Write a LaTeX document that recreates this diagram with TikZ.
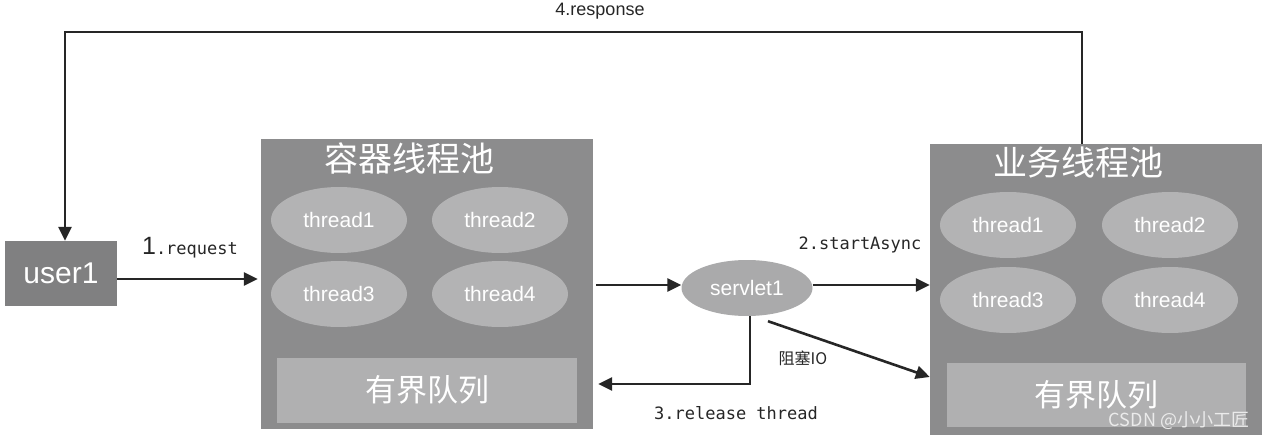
\documentclass[tikz,border=0pt]{standalone}
\usepackage{fontspec}
\setmainfont{Liberation Sans}
\newfontfamily\cjk{Noto Sans CJK SC}
\newfontfamily\codefont{DejaVu Sans Mono}
\usetikzlibrary{arrows.meta,positioning,shapes.geometric,calc}
\definecolor{poolgray}{HTML}{8C8C8D}
\definecolor{threadgray}{HTML}{B3B3B4}
\definecolor{queuegray}{HTML}{B0B0B1}
\definecolor{usergray}{HTML}{808081}
\definecolor{servletgray}{HTML}{AAAAAB}
\newcommand{\fsz}[1]{\fontsize{#1}{#1}\selectfont}

\begin{document}
\begin{tikzpicture}[
  x=1pt, y=-1pt,
  pool/.style={fill=poolgray, minimum width=332pt, minimum height=290pt, inner sep=0pt},
  pooltitle/.style={font=\cjk\fsz{34}, text=white},
  thread/.style={ellipse, fill=threadgray, minimum width=136pt, minimum height=66pt, inner sep=0pt, text=white, font=\fsz{21}},
  queue/.style={fill=queuegray, minimum width=300pt, minimum height=65pt, inner sep=0pt, text=white, font=\cjk\fsz{31}},
  arrow/.style={-{Triangle[length=14pt,width=13pt]}, line width=2.6pt, black!85},
  codelbl/.style={font=\codefont\fsz{17}, text=black!85},
]
  \useasboundingbox (0,0) rectangle (1264,441);

  % Client
  \node[fill=usergray, minimum width=112pt, minimum height=65pt, inner sep=0pt, text=white, font=\fsz{30}] (user1) at (61,273.5) {user1};

  % Container thread pool
  \node[pool] (pool1) at (427,284) {};
  \node[pooltitle] (title1) at (409,158) {容器线程池};
  \node[thread] (c1) at (339,220) {thread1};
  \node[thread] (c2) at (500,220) {thread2};
  \node[thread] (c3) at (339,294) {thread3};
  \node[thread] (c4) at (500,294) {thread4};
  \node[queue] (q1) at (427,390) {有界队列};

  % Business thread pool
  \node[pool, minimum height=291pt] (pool2) at (1096,289.5) {};
  \node[pooltitle] (title2) at (1078,163) {业务线程池};
  \node[thread] (b1) at (1008,225) {thread1};
  \node[thread] (b2) at (1170,225) {thread2};
  \node[thread] (b3) at (1008,300) {thread3};
  \node[thread] (b4) at (1170,300) {thread4};
  \node[queue, minimum width=299pt, minimum height=64pt] (q2) at (1096.5,395) {有界队列};
  \node[font=\cjk\fsz{18}, text=white!92!black] (mark) at (1179,421) {CSDN @小小工匠};

  % Servlet
  \node[ellipse, fill=servletgray, minimum width=131pt, minimum height=56pt, inner sep=0pt, text=white, font=\fsz{21}] (servlet) at (747,288) {servlet1};

  % Request flow
  \draw[arrow, shorten >=3pt] (user1.east |- 0,279) -- (pool1.west |- 0,279);
  \node[text=black!85] (req) at (190,248) {\fsz{25}1\codefont\fsz{17}.request};

  \draw[arrow, shorten <=3pt] (pool1.east |- 0,285) -- (servlet.west |- 0,285);
  \draw[arrow] (servlet.east |- 0,285) -- (pool2.west |- 0,285);
  \node[codelbl] (async) at (860,245) {2.startAsync};

  \draw[arrow, shorten >=5pt] ([xshift=3pt]servlet.south) |- (pool1.east |- 0,384);
  \node[codelbl] (release) at (736,413) {3.release thread};

  \draw[arrow] ([xshift=21pt,yshift=-5pt]servlet.south) -- (pool2.west |- 0,377);
  \node[font=\cjk\fsz{16}, text=black!85] (blockio) at (803,358) {阻塞IO};

  % Response back to client
  \coordinate (corner) at (65,32);
  \draw[arrow] ([xshift=-14pt]pool2.north) |- (corner) -- (corner |- user1.north);
  \node[font=\fsz{18}, text=black!85] (resp) at (600,11) {4.response};
\end{tikzpicture}
\end{document}
